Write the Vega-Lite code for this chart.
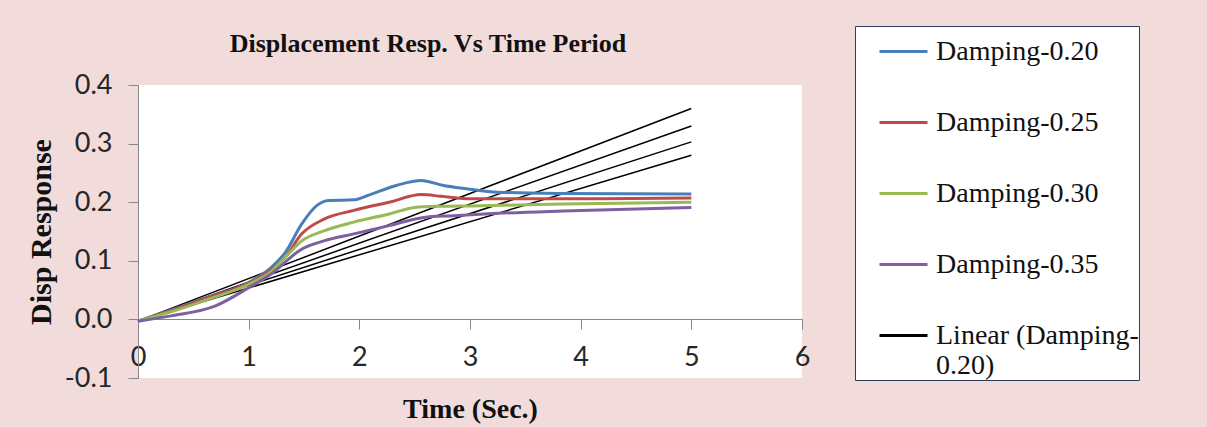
{
  "$schema": "https://vega.github.io/schema/vega-lite/v6.json",
  "autosize": "none",
  "width": 664,
  "height": 293,
  "padding": {"left": 138, "top": 85, "right": 405, "bottom": 49},
  "background": "#F2DCDB",
  "view": {"fill": "white", "stroke": null},
  "title": {
    "text": "Displacement Resp. Vs Time Period",
    "font": "Liberation Serif",
    "fontSize": 26,
    "fontWeight": "bold",
    "color": "#111111",
    "anchor": "middle",
    "dx": -42,
    "offset": 0,
    "dy": 31
  },
  "datasets": {
    "curves": [
      {"series": "Damping-0.20", "t": 0, "d": -0.003},
      {"series": "Damping-0.20", "t": 0.3, "d": 0.016},
      {"series": "Damping-0.20", "t": 0.6, "d": 0.036},
      {"series": "Damping-0.20", "t": 1.0, "d": 0.063},
      {"series": "Damping-0.20", "t": 1.1, "d": 0.074},
      {"series": "Damping-0.20", "t": 1.2, "d": 0.088},
      {"series": "Damping-0.20", "t": 1.33, "d": 0.114},
      {"series": "Damping-0.20", "t": 1.48, "d": 0.163},
      {"series": "Damping-0.20", "t": 1.62, "d": 0.195},
      {"series": "Damping-0.20", "t": 1.72, "d": 0.203},
      {"series": "Damping-0.20", "t": 1.95, "d": 0.204},
      {"series": "Damping-0.20", "t": 2.07, "d": 0.211},
      {"series": "Damping-0.20", "t": 2.34, "d": 0.229},
      {"series": "Damping-0.20", "t": 2.56, "d": 0.237},
      {"series": "Damping-0.20", "t": 2.75, "d": 0.229},
      {"series": "Damping-0.20", "t": 2.97, "d": 0.223},
      {"series": "Damping-0.20", "t": 3.25, "d": 0.217},
      {"series": "Damping-0.20", "t": 3.8, "d": 0.215},
      {"series": "Damping-0.20", "t": 5.0, "d": 0.214},
      {"series": "Damping-0.25", "t": 0, "d": -0.003},
      {"series": "Damping-0.25", "t": 0.3, "d": 0.015},
      {"series": "Damping-0.25", "t": 0.6, "d": 0.035},
      {"series": "Damping-0.25", "t": 1.0, "d": 0.062},
      {"series": "Damping-0.25", "t": 1.2, "d": 0.084},
      {"series": "Damping-0.25", "t": 1.33, "d": 0.106},
      {"series": "Damping-0.25", "t": 1.48, "d": 0.146},
      {"series": "Damping-0.25", "t": 1.68, "d": 0.171},
      {"series": "Damping-0.25", "t": 1.95, "d": 0.186},
      {"series": "Damping-0.25", "t": 2.27, "d": 0.2},
      {"series": "Damping-0.25", "t": 2.56, "d": 0.213},
      {"series": "Damping-0.25", "t": 2.74, "d": 0.21},
      {"series": "Damping-0.25", "t": 2.97, "d": 0.206},
      {"series": "Damping-0.25", "t": 4.0, "d": 0.206},
      {"series": "Damping-0.25", "t": 5.0, "d": 0.207},
      {"series": "Damping-0.30", "t": 0, "d": -0.003},
      {"series": "Damping-0.30", "t": 0.3, "d": 0.013},
      {"series": "Damping-0.30", "t": 0.6, "d": 0.032},
      {"series": "Damping-0.30", "t": 1.0, "d": 0.06},
      {"series": "Damping-0.30", "t": 1.2, "d": 0.081},
      {"series": "Damping-0.30", "t": 1.36, "d": 0.112},
      {"series": "Damping-0.30", "t": 1.48, "d": 0.134},
      {"series": "Damping-0.30", "t": 1.68, "d": 0.151},
      {"series": "Damping-0.30", "t": 1.95, "d": 0.166},
      {"series": "Damping-0.30", "t": 2.27, "d": 0.18},
      {"series": "Damping-0.30", "t": 2.5, "d": 0.191},
      {"series": "Damping-0.30", "t": 2.7, "d": 0.193},
      {"series": "Damping-0.30", "t": 3.1, "d": 0.194},
      {"series": "Damping-0.30", "t": 3.84, "d": 0.197},
      {"series": "Damping-0.30", "t": 5.0, "d": 0.2},
      {"series": "Damping-0.35", "t": 0, "d": -0.003},
      {"series": "Damping-0.35", "t": 0.3, "d": 0.006},
      {"series": "Damping-0.35", "t": 0.7, "d": 0.023},
      {"series": "Damping-0.35", "t": 1.0, "d": 0.054},
      {"series": "Damping-0.35", "t": 1.2, "d": 0.077},
      {"series": "Damping-0.35", "t": 1.48, "d": 0.12},
      {"series": "Damping-0.35", "t": 1.68, "d": 0.134},
      {"series": "Damping-0.35", "t": 1.95, "d": 0.146},
      {"series": "Damping-0.35", "t": 2.27, "d": 0.16},
      {"series": "Damping-0.35", "t": 2.58, "d": 0.174},
      {"series": "Damping-0.35", "t": 2.85, "d": 0.177},
      {"series": "Damping-0.35", "t": 3.25, "d": 0.181},
      {"series": "Damping-0.35", "t": 3.84, "d": 0.185},
      {"series": "Damping-0.35", "t": 5.0, "d": 0.191}
    ],
    "trends": [
      {"series": "Linear (Damping-0.20)", "t": 0, "d": -0.003},
      {"series": "Linear (Damping-0.20)", "t": 5, "d": 0.36},
      {"series": "Linear (Damping-0.25)", "t": 0, "d": -0.003},
      {"series": "Linear (Damping-0.25)", "t": 5, "d": 0.33},
      {"series": "Linear (Damping-0.30)", "t": 0, "d": -0.003},
      {"series": "Linear (Damping-0.30)", "t": 5, "d": 0.303},
      {"series": "Linear (Damping-0.35)", "t": 0, "d": -0.003},
      {"series": "Linear (Damping-0.35)", "t": 5, "d": 0.28}
    ]
  },
  "encoding": {
    "x": {
      "field": "t",
      "type": "quantitative",
      "scale": {"domain": [0, 6], "nice": false, "zero": false},
      "axis": {
        "title": "Time (Sec.)",
        "values": [0, 1, 2, 3, 4, 5, 6],
        "offset": -59,
        "grid": false,
        "domainColor": "#868686",
        "tickColor": "#868686",
        "tickSize": 10,
        "labelFont": "Lato",
        "labelFontSize": 27,
        "labelColor": "#262626",
        "labelPadding": 15,
        "labelFlush": false,
        "titleFont": "Liberation Serif",
        "titleFontSize": 28,
        "titleFontWeight": "bold",
        "titleColor": "#111111",
        "titlePadding": 25
      }
    },
    "y": {
      "field": "d",
      "type": "quantitative",
      "scale": {"domain": [-0.1, 0.4], "nice": false, "zero": false},
      "axis": {
        "title": "Disp Response",
        "values": [-0.1, 0, 0.1, 0.2, 0.3, 0.4],
        "format": ".1f",
        "labelExpr": "replace(datum.label, '−', '-')",
        "grid": false,
        "domainColor": "#868686",
        "tickColor": "#868686",
        "tickSize": 10,
        "labelFont": "Lato",
        "labelFontSize": 27,
        "labelColor": "#262626",
        "labelPadding": 16,
        "labelFlush": false,
        "titleFont": "Liberation Serif",
        "titleFontSize": 30,
        "titleFontWeight": "bold",
        "titleColor": "#111111",
        "titlePadding": 8
      }
    }
  },
  "layer": [
    {
      "data": {"name": "trends"},
      "mark": {"type": "line", "strokeWidth": 1.5},
      "encoding": {
        "color": {
          "field": "series",
          "type": "nominal",
          "scale": {
            "domain": ["Damping-0.20", "Damping-0.25", "Damping-0.30", "Damping-0.35", "Linear (Damping-0.20)", "Linear (Damping-0.25)", "Linear (Damping-0.30)", "Linear (Damping-0.35)"],
            "range": ["#4A7EBB", "#BE4B48", "#98B954", "#7D60A0", "#000000", "#000000", "#000000", "#000000"]
          },
          "legend": {
            "values": ["Damping-0.20", "Damping-0.25", "Damping-0.30", "Damping-0.35", "Linear (Damping-0.20)"],
            "title": null,
            "orient": "none",
            "legendX": 717,
            "legendY": -59,
            "fillColor": "white",
            "strokeColor": "#2F3E5C",
            "padding": 0,
            "symbolType": "stroke",
            "symbolSize": 2304,
            "symbolStrokeWidth": 3,
            "symbolOffset": 23,
            "labelFont": "Liberation Serif",
            "labelFontSize": 28,
            "labelColor": "#111111",
            "labelOffset": 7,
            "labelLimit": 400,
            "rowPadding": 31,
            "labelExpr": "datum.label == 'Linear (Damping-0.20)' ? ['Linear (Damping-\u00a0\u00a0\u00a0\u00a0\u00a0', '0.20)'] : datum.label"
          }
        }
      }
    },
    {
      "data": {"name": "curves"},
      "mark": {"type": "line", "strokeWidth": 3, "interpolate": "monotone"},
      "encoding": {
        "color": {"field": "series", "type": "nominal"}
      }
    }
  ]
}
